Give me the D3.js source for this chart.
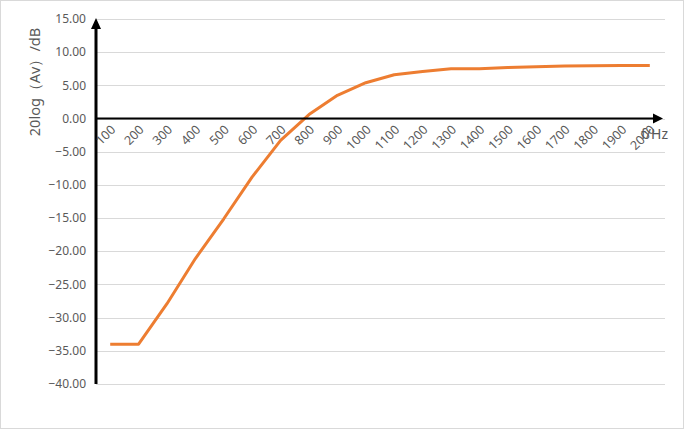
<!DOCTYPE html>
<html><head><meta charset="utf-8">
<script src="https://cdn.jsdelivr.net/npm/d3@7"></script>
<style>body{margin:0;background:#fff;}svg{display:block;}</style>
</head><body>
<svg id="c" width="684" height="429"></svg>
<script>
const categories = ["100","200","300","400","500","600","700","800","900","1000","1100","1200","1300","1400","1500","1600","1700","1800","1900","2000"];
const gainDb = [-34, -34, -27.9, -21.1, -15.1, -8.8, -3.3, 0.6, 3.5, 5.4, 6.6, 7.1, 7.5, 7.5, 7.7, 7.8, 7.9, 7.95, 8.0, 8.0];
const yTicks = [15, 10, 5, 0, -5, -10, -15, -20, -25, -30, -35, -40];

const svg = d3.select("#c");
svg.append("rect").attr("x",0.5).attr("y",0.5).attr("width",683).attr("height",428)
  .attr("fill","#fff").attr("stroke","#d9d9d9");

const x0 = 96, x1 = 664, yTop = 19, yBot = 384;
const x = d3.scaleBand().domain(categories).range([x0, x1]);
const y = d3.scaleLinear().domain([-40, 15]).range([yBot, yTop]);
const font = "'Noto Sans', 'Open Sans', sans-serif";

// gridlines
svg.append("g").selectAll("line").data(yTicks).join("line")
  .attr("x1", x0).attr("x2", 665)
  .attr("y1", d => Math.round(y(d)) + 0.5).attr("y2", d => Math.round(y(d)) + 0.5)
  .attr("stroke", "#d9d9d9").attr("stroke-width", 1);

// y tick labels
svg.append("g").selectAll("text").data(yTicks).join("text")
  .attr("x", 86).attr("y", d => y(d)).attr("dy", "0.35em")
  .attr("text-anchor", "end").attr("font-family", font).attr("font-size", 12)
  .attr("fill", "#595959").text(d => d3.format(".2f")(d));

// y axis title
svg.append("text").attr("transform", "translate(40,82) rotate(-90)")
  .attr("text-anchor", "middle").attr("font-family", font).attr("font-size", 14.5)
  .attr("fill", "#595959").text("20log（Av）/dB");

// data line
const line = d3.line().x((d, i) => x(categories[i]) + x.bandwidth() / 2).y(d => y(d));
svg.append("path").datum(gainDb).attr("d", line)
  .attr("fill", "none").attr("stroke", "#ED7D31").attr("stroke-width", 3)
  .attr("stroke-linejoin", "round");

// x axis (at y=0) with arrow
const y0 = y(0);
svg.append("line").attr("x1", x0).attr("x2", 655).attr("y1", y0).attr("y2", y0)
  .attr("stroke", "#000").attr("stroke-width", 2);
svg.append("path").attr("d", `M663,${y0} L653,${y0-5} L653,${y0+5} Z`).attr("fill", "#000");

// y axis with arrow
svg.append("line").attr("x1", x0).attr("x2", x0).attr("y1", yBot).attr("y2", 27)
  .attr("stroke", "#000").attr("stroke-width", 3);
svg.append("path").attr("d", `M${x0},18 L${x0-5},29 L${x0+5},29 Z`).attr("fill", "#000");

// x tick labels
svg.append("g").selectAll("text").data(categories).join("text")
  .attr("transform", d => `translate(${x(d) + x.bandwidth()/2 + 6},${y0 + 12}) rotate(-45)`)
  .attr("text-anchor", "end").attr("font-family", font).attr("font-size", 12.5)
  .attr("fill", "#595959").text(d => d);

// x axis title
svg.append("text").attr("x", 641).attr("y", y0 + 20).attr("font-family", font)
  .attr("font-size", 14).attr("fill", "#595959").text("f/Hz");
</script>
</body></html>
